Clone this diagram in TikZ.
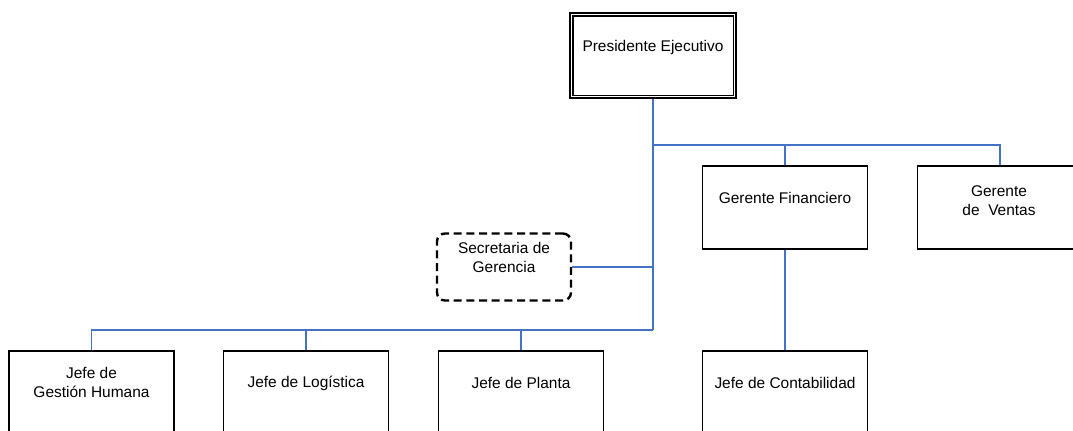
\documentclass[tikz,border=0pt]{standalone}
\usepackage{fontspec}
\setmainfont{Liberation Sans}
\definecolor{connblue}{RGB}{68,114,196}
\begin{document}
\begin{tikzpicture}[x=0.75pt,y=-0.75pt,
  box/.style={draw=black,line width=0.8pt,minimum width=123.75pt,minimum height=62.25pt,inner sep=0pt,fill=white},
  presbox/.style={draw=black,line width=0.8pt,minimum width=124.5pt,minimum height=63.75pt,inner sep=0pt},
  secbox/.style={draw=black,line width=1.8pt,dash pattern=on 6pt off 3.5pt,rounded corners=6pt,minimum width=100.5pt,minimum height=50.25pt,inner sep=0pt},
  txt/.style={inner sep=0pt,align=center,font=\fontsize{11.6pt}{14.25pt}\selectfont},
  conn/.style={draw=connblue,line width=1.1pt}]
\useasboundingbox (0,0) rectangle (1073,430);
\clip (0,0) rectangle (1073,430);
% boxes
\node[presbox] (pres) at (653,55.5) {};
\draw[black,line width=0.8pt] ([shift={(3.5,3.5)}]pres.north west) rectangle ([shift={(-3.5,-3.5)}]pres.south east);
\node[box] (gf) at (785,207.5) {};
\node[box] (gv) at (1000,207.5) {};
\node[secbox] (sec) at (504,267) {};
\node[box] (gh) at (91.5,392.5) {};
\node[box] (log) at (306,392.5) {};
\node[box] (pla) at (521,392.5) {};
\node[box] (con) at (785,392.5) {};
% texts
\node[txt] (pres-t) at (653,47) {Presidente Ejecutivo};
\node[txt] (gf-t) at (785,198) {Gerente Financiero};
\node[txt] (gv-t) at (999,200.5) {Gerente\\de\ \ Ventas};
\node[txt] (sec-t) at (504,257.5) {Secretaria de\\Gerencia};
\node[txt] (gh-t) at (91.5,382.5) {Jefe de\\Gestión Humana};
\node[txt] (log-t) at (306,383) {Jefe de Logística};
\node[txt] (pla-t) at (521,383) {Jefe de Planta};
\node[txt] (con-t) at (785,383) {Jefe de Contabilidad};
% connectors
\coordinate (b1) at (653,145);
\coordinate (b2) at (653,330);
\draw[conn] (pres.south) -- (b2);
\draw[conn] (b1) -| (gf.north);
\draw[conn] (b1) -| (gv.north);
\draw[conn] (sec.east) -- (sec.east -| b2);
\draw[conn] (b2) -| (gh.north);
\draw[conn] (b2) -| (log.north);
\draw[conn] (b2) -| (pla.north);
\draw[conn] (gf.south) -- (con.north);
\end{tikzpicture}
\end{document}
